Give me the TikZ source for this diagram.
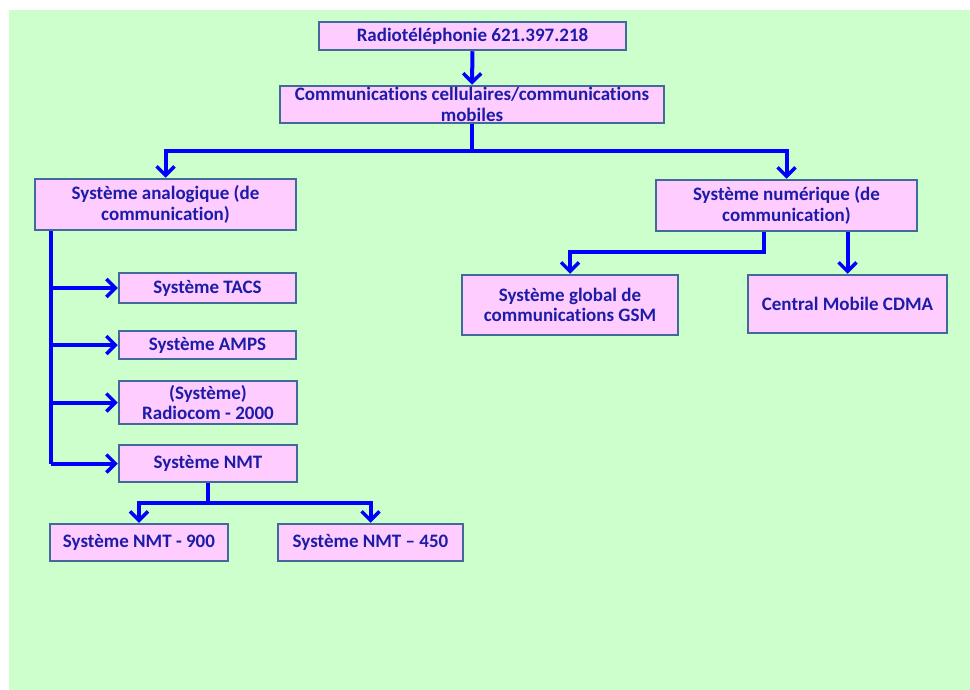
\documentclass[tikz,border=0pt]{standalone}
\usepackage{fontspec}
\setmainfont[Ligatures={NoCommon}]{Carlito}
\usetikzlibrary{arrows.meta}
\definecolor{bggreen}{HTML}{CCFFCC}
\definecolor{boxpink}{HTML}{FFCCFF}
\definecolor{boxedge}{HTML}{41699A}
\definecolor{txtblue}{HTML}{1C1CA8}
\definecolor{linkblue}{HTML}{0000FF}
\tikzset{
  box/.style={draw=boxedge, line width=2.5pt, fill=boxpink, inner sep=0pt,
    align=center, text=txtblue, font=\fontsize{19}{20.5}\selectfont\bfseries},
  conn/.style={draw=linkblue, line width=4pt},
  arr/.style={conn, -{Straight Barb[length=9pt,width=18pt,line width=3.5pt]}},
}
\newcommand{\bx}[6]{%
  \node[box, minimum width={(#4-#2)*1pt}, minimum height={(#5-#3)*1pt}] (#1)
    at ({(#2+#4)/2},{(#3+#5)/2}) {#6};}
\begin{document}
\begin{tikzpicture}[x=1pt,y=-1pt]
  \useasboundingbox (0,0) rectangle (970,690);
  \fill[white] (0,0) rectangle (970,690);
  \fill[bggreen] (9,10) rectangle (970,690);

  \bx{rad}{319}{22}{626}{50}{Radiotéléphonie 621.397.218}
  \bx{com}{280}{86}{664}{123}{Communications cellulaires/communications\\mobiles}
  \bx{ana}{35}{179}{296}{230}{Système analogique (de\\communication)}
  \bx{num}{656}{180}{917}{231}{Système numérique (de\\communication)}
  \bx{gsm}{462}{275}{678}{335}{Système global de\\communications GSM}
  \bx{cdma}{748}{275}{947}{333}{Central Mobile CDMA}
  \bx{tacs}{119}{273}{296}{303}{Système TACS}
  \bx{amps}{119}{331}{296}{359}{Système AMPS}
  \bx{radio}{119}{381}{297}{424}{(Système)\\Radiocom - 2000}
  \bx{nmt}{119}{445}{297}{482}{Système NMT}
  \bx{nnine}{50}{524}{228}{561}{Système NMT - 900}
  \bx{nfour}{278}{524}{463}{561}{Système NMT – 450}

  % top
  \draw[arr] (rad.south) -- (com.north);
  \coordinate (j1) at (472,151);
  \draw[conn] (com.south) -- (j1);
  \draw[arr] (j1) -| (ana.north);
  \draw[arr] (j1) -| (num.north);

  % left trunk
  \coordinate (tr) at (51,0);
  \draw[conn] (tr |- ana.south) -- (tr |- nmt.west);
  \draw[arr] (tr |- tacs.west) -- (tacs.west);
  \draw[arr] (tr |- amps.west) -- (amps.west);
  \draw[arr] (tr |- radio.west) -- (radio.west);
  \draw[arr] (tr |- nmt.west) -- (nmt.west);

  % NMT split
  \coordinate (j3) at (208,503);
  \draw[conn] (nmt.south) -- (j3);
  \draw[arr] (j3) -| (nnine.north);
  \draw[arr] (j3) -| (nfour.north);

  % numerique split
  \coordinate (j2) at (763.5,252);
  \draw[arr] (j2 |- num.south) -- (j2) -| (gsm.north);
  \draw[arr] (cdma.north |- num.south) -- (cdma.north);
\end{tikzpicture}
\end{document}
